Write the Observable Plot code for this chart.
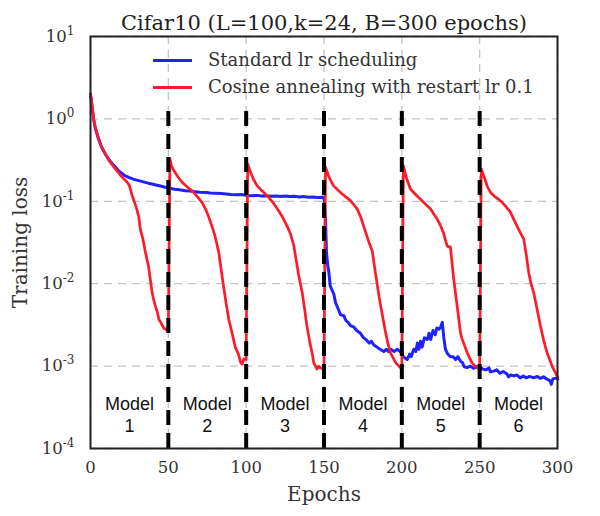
<!DOCTYPE html>
<html>
<head>
<meta charset="utf-8">
<script src="https://cdn.jsdelivr.net/npm/d3@7"></script>
<script src="https://cdn.jsdelivr.net/npm/@observablehq/plot@0.6"></script>
<style>
  html, body { margin: 0; padding: 0; background: #fff; }
  #wrap { position: relative; width: 600px; height: 516px; }
  .leg { position: absolute; left: 153px; font-family: "DejaVu Serif", serif; font-size: 18px; color: #333; display: flex; align-items: center; white-space: nowrap; line-height: 20px; }
  .leg .sw { display: inline-block; width: 39px; height: 3px; margin-right: 16px; }
</style>
</head>
<body>
<div id="wrap"></div>
<script>
// ---- data ----
const titleText = "Cifar10 (L=100,k=24, B=300 epochs)";
const seriesNames = ["Standard lr scheduling", "Cosine annealing with restart lr 0.1"];
const seriesColors = ["#1e22ff", "#ff1a2a"];

const xTicks = [0, 50, 100, 150, 200, 250, 300];
const yTicks = [1e-4, 1e-3, 1e-2, 1e-1, 1, 10];
const boundaries = [50, 100, 150, 200, 250];
const modelNames = ["1", "2", "3", "4", "5", "6"];

const blueEpoch = [0,1,2,3,5,7,10,13,16,18,20,22,24.6,27,29,31,34,37,39.6,42,45,48,51,54,57,61,64,67,70,74,77,80,84,87,90,94,97,100,104,107,110,113,116,119,122,125,128,131,134,137,140,143,146,149,150,
  151,151.6,152.5,153,154,155,156.3,157.4,159,160.6,162.7,164,165.5,167,169,171,173.4,175.5,177,179,180.5,182,184,186,188.4,190,191.5,193,195,197,199,
  201,203.4,205,206,207.7,209,210,211,212,213,214.5,216.3,217.5,218.5,220,221.5,222.5,223.8,225,226,227,228,229.5,231.2,233,234.5,236,237.6,239,240,241.9,244,246,248,250.5,
  252,254,256,257,259,261,263,265,267.6,268.5,270,272,274,276,278,280,282,284.7,287,289,291,293,295.4,296,297,299.7,300];
const blueLoss = [2.0,1.4,1.0,0.78,0.58,0.46,0.36,0.3,0.26,0.235,0.22,0.205,0.195,0.187,0.182,0.178,0.172,0.166,0.162,0.158,0.153,0.148,0.144,0.14,0.138,0.134,0.133,0.131,0.129,0.128,0.126,0.125,0.124,0.123,0.121,0.12,0.121,0.118,0.117,0.118,0.116,0.117,0.115,0.116,0.114,0.116,0.114,0.115,0.113,0.114,0.112,0.113,0.111,0.112,0.11,
  0.061,0.024,0.016,0.0144,0.0094,0.0085,0.0075,0.0059,0.005,0.0042,0.0041,0.0036,0.0034,0.0031,0.003,0.0027,0.0025,0.0022,0.0021,0.0019,0.002,0.0018,0.0017,0.0016,0.0015,0.0016,0.0015,0.0016,0.0015,0.0016,0.0015,
  0.0013,0.0012,0.0014,0.0013,0.0016,0.0015,0.0019,0.0016,0.002,0.0017,0.0022,0.0021,0.0025,0.0021,0.0027,0.0024,0.0029,0.0028,0.003,0.0034,0.0022,0.0016,0.0014,0.0013,0.0013,0.0012,0.0013,0.00115,0.0011,0.00098,0.00096,0.001,0.00094,0.00098,0.00096,
  0.00092,0.0009,0.00095,0.00085,0.00087,0.0009,0.00082,0.00086,0.0008,0.00074,0.00078,0.00076,0.00078,0.00072,0.00076,0.00072,0.00075,0.00072,0.00075,0.00071,0.00074,0.0007,0.00066,0.0006,0.0007,0.00072,0.0007];

const redEpoch = [0,1,2,3,5,7,9.6,12,16,19,21.4,23.6,25,26.8,28.5,30,31,32,33.5,35.3,37.4,38.5,39.6,40.6,41.7,43,43.9,45.5,47,49.7,50,
  51,52,53.5,56,58.8,62,65.3,68.5,71.6,74,76,78,80,82.4,84.5,86.7,88.8,91,93,95,96.5,97.5,98.5,100,
  101,103,105,107,110,113.5,117,120,123,126.3,128.5,130.6,132,133.8,136,137.5,139,141,142.5,143.4,145.5,146.5,147.6,149.5,150,
  151,153,156,160.6,164,167,171.3,173.5,175.5,178.8,181,183,186,189.5,191,192.7,194,196,199,200,
  201,203,205.5,209,212,215,218.4,220.5,222.7,225,227,229,230,231.2,232,233.3,235.5,237.6,238.5,239.7,242,245,247,249.5,250,
  251,252.6,255,257,260,263.3,266.5,269.7,272,274,276,278.3,280,281.5,283,284.7,287,289,291,293.3,295,296.5,298,299.7,300];
const redLoss = [2.0,1.5,1.0,0.8,0.6,0.46,0.376,0.31,0.247,0.21,0.187,0.17,0.155,0.117,0.095,0.077,0.065,0.046,0.036,0.024,0.0158,0.011,0.0078,0.0064,0.0053,0.0045,0.0037,0.0033,0.0029,0.0027,0.0027,
  0.33,0.27,0.236,0.2,0.17,0.15,0.134,0.115,0.097,0.08,0.064,0.05,0.038,0.024,0.0125,0.0065,0.0037,0.0025,0.0017,0.0014,0.0011,0.00105,0.00122,0.0012,
  0.284,0.22,0.18,0.155,0.135,0.117,0.098,0.081,0.066,0.05,0.04,0.029,0.02,0.0125,0.0078,0.005,0.0031,0.0019,0.0014,0.0011,0.00092,0.001,0.00095,0.00093,0.00095,
  0.26,0.2,0.155,0.128,0.113,0.102,0.081,0.065,0.05,0.032,0.025,0.0137,0.0059,0.0026,0.0019,0.00145,0.0013,0.0011,0.00096,0.00092,
  0.27,0.19,0.141,0.12,0.106,0.093,0.081,0.07,0.061,0.05,0.04,0.029,0.028,0.028,0.02,0.0114,0.0054,0.0026,0.0022,0.0019,0.00145,0.0011,0.001,0.00092,0.00093,
  0.247,0.205,0.15,0.128,0.113,0.102,0.088,0.074,0.06,0.05,0.042,0.035,0.022,0.0137,0.01,0.0078,0.0048,0.0031,0.0021,0.00145,0.0012,0.001,0.00088,0.00076,0.00074];

// ---- build tables ----
const blue = blueEpoch.map((e, i) => ({epoch: e, loss: blueLoss[i]}));
const red = redEpoch.map((e, i) => ({epoch: e, loss: redLoss[i]}));
const edges = [0, ...boundaries, 300];
const models = modelNames.map((n, i) => ({mid: (edges[i] + edges[i + 1]) / 2, label: "Model\n" + n}));

const chart = Plot.plot({
  width: 600,
  height: 516,
  marginLeft: 90,
  marginRight: 43,
  marginTop: 36,
  marginBottom: 68,
  style: {fontFamily: "DejaVu Serif", fontSize: "16.5px", color: "#333", background: "#fff"},
  x: {domain: [0, 300], ticks: xTicks, tickSize: 0, tickPadding: 13, label: null},
  y: {type: "log", domain: [1e-4, 10], ticks: yTicks, tickSize: 0, tickPadding: 16, label: null,
      tickFormat: d => "10^" + Math.round(Math.log10(d))},
  marks: [
    Plot.gridX(xTicks, {stroke: "#c4c4c4", strokeOpacity: 1, strokeWidth: 1.3, strokeDasharray: "8,6"}),
    Plot.gridY(yTicks, {stroke: "#c4c4c4", strokeOpacity: 1, strokeWidth: 1.3, strokeDasharray: "8,6"}),
    Plot.line(blue, {x: "epoch", y: "loss", stroke: seriesColors[0], strokeWidth: 3}),
    Plot.line(red, {x: "epoch", y: "loss", stroke: seriesColors[1], strokeWidth: 2.7}),
    Plot.ruleX(boundaries, {y1: 1e-4, y2: 1.45, stroke: "#000", strokeWidth: 4, strokeDasharray: "15,8"}),
    Plot.text(models, {x: "mid", frameAnchor: "bottom", dy: -17, text: "label", fontFamily: "Liberation Sans", fontSize: 18, fill: "#111", lineHeight: 1.22}),
    Plot.frame({stroke: "#222", strokeWidth: 2}),
    Plot.text([titleText], {frameAnchor: "top", dy: -21, fontSize: 21, fill: "#222"}),
    Plot.text(["Epochs"], {frameAnchor: "bottom", dy: 52, fontSize: 20, fill: "#333"}),
    Plot.text(["Training loss"], {frameAnchor: "left", dx: -70, rotate: -90, textAnchor: "middle", fontSize: 20, fill: "#333"})
  ]
});

// superscript exponents on the log axis tick labels
d3.select(chart).selectAll('g[aria-label="y-axis tick label"] text').each(function() {
  const t = this.textContent;
  const m = t.match(/^10\^(-?\d+)$/);
  if (!m) return;
  this.textContent = "10";
  const ts = document.createElementNS("http://www.w3.org/2000/svg", "tspan");
  ts.setAttribute("dy", "-7");
  ts.setAttribute("font-size", "12");
  ts.textContent = m[1];
  this.appendChild(ts);
});

const wrap = document.getElementById("wrap");
wrap.appendChild(chart);

// legend (no box; drawn over the plot area like the original)
const legTops = [50, 77];
seriesNames.forEach((name, i) => {
  const row = document.createElement("div");
  row.className = "leg";
  row.style.top = legTops[i] + "px";
  const sw = document.createElement("span");
  sw.className = "sw";
  sw.style.background = seriesColors[i];
  row.appendChild(sw);
  row.appendChild(document.createTextNode(name));
  wrap.appendChild(row);
});
</script>
</body>
</html>
